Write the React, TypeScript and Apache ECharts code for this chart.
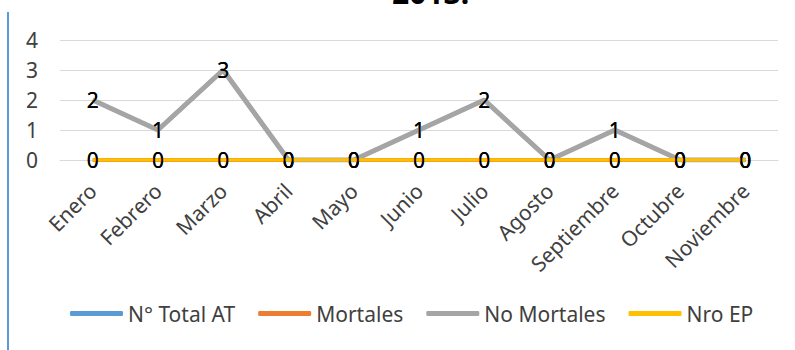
import React, { useEffect, useRef } from "react";
import * as echarts from "echarts";

const titleText = "2013.";
const months = [
  "Enero", "Febrero", "Marzo", "Abril", "Mayo", "Junio",
  "Julio", "Agosto", "Septiembre", "Octubre", "Noviembre",
];
const totalAT = [2, 1, 3, 0, 0, 1, 2, 0, 1, 0, 0];
const mortales = [0, 0, 0, 0, 0, 0, 0, 0, 0, 0, 0];
const noMortales = [2, 1, 3, 0, 0, 1, 2, 0, 1, 0, 0];
const nroEP = [0, 0, 0, 0, 0, 0, 0, 0, 0, 0, 0];
const seriesNames = ["N° Total AT", "Mortales", "No Mortales", "Nro EP"];
const seriesColors = ["#5B9BD5", "#ED7D31", "#A5A5A5", "#FFC000"];

const FONT = "'Noto Sans', 'Open Sans', sans-serif";

export default function App() {
  const ref = useRef<HTMLDivElement>(null);

  useEffect(() => {
    document.body.style.margin = "0";
    if (!ref.current) return;
    const chart = echarts.init(ref.current, undefined, { renderer: "svg" });
    const data = [totalAT, mortales, noMortales, nroEP];
    const widths = [4, 4, 5, 3.5];

    chart.setOption({
      animation: false,
      backgroundColor: "#ffffff",
      textStyle: { fontFamily: FONT },
      title: {
        text: titleText,
        left: 387,
        top: -28,
        textStyle: { fontFamily: FONT, fontSize: 30, fontWeight: "bold", color: "#000000" },
      },
      graphic: [
        {
          type: "line",
          shape: { x1: 8, y1: 12, x2: 8, y2: 350 },
          style: { stroke: "#5B9BD5", lineWidth: 2 },
        },
      ],
      legend: {
        left: 65,
        top: 298,
        itemWidth: 53,
        itemHeight: 5,
        itemGap: 23,
        icon: "roundRect",
        textStyle: { fontFamily: FONT, fontSize: 21, color: "#404040" },
        data: seriesNames,
      },
      grid: { left: 60, right: 17, top: 40, bottom: 190 },
      xAxis: {
        type: "category",
        data: months,
        boundaryGap: true,
        axisTick: { show: false },
        axisLine: { lineStyle: { color: "#d9d9d9", width: 1 } },
        axisLabel: {
          rotate: 45,
          interval: 0,
          margin: 27,
          fontSize: 21,
          fontFamily: FONT,
          color: "#404040",
        },
      },
      yAxis: {
        type: "value",
        min: 0,
        max: 4,
        interval: 1,
        axisLine: { show: false },
        axisTick: { show: false },
        splitLine: { lineStyle: { color: "#d9d9d9", width: 1 } },
        axisLabel: { fontSize: 21, fontFamily: FONT, color: "#404040", margin: 22 },
      },
      series: seriesNames.map((name, i) => ({
        name,
        type: "line",
        data: data[i],
        symbol: "circle",
        symbolSize: 0,
        showSymbol: true,
        color: seriesColors[i],
        lineStyle: { color: seriesColors[i], width: widths[i] },
        label: {
          show: true,
          position: "inside",
          fontSize: 21,
          fontFamily: FONT,
          color: "#000000",
        },
        z: i + 2,
      })),
    });

    return () => chart.dispose();
  }, []);

  return <div ref={ref} style={{ width: 795, height: 350 }} />;
}
